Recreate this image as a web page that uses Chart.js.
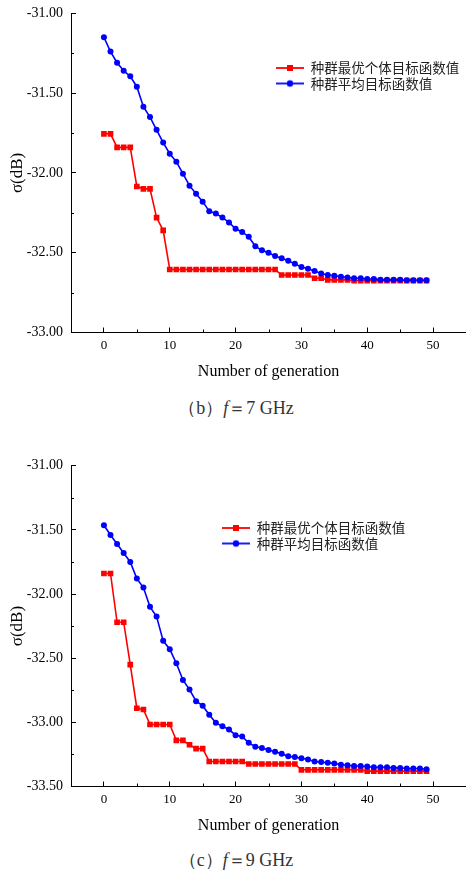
<!DOCTYPE html>
<html>
<head>
<meta charset="utf-8">
<script src="https://cdn.jsdelivr.net/npm/chart.js@4.4.1/dist/chart.umd.min.js"></script>
<style>
  html, body { margin: 0; padding: 0; background: #fff; }
  body { width: 466px; height: 874px; position: relative; overflow: hidden; }
  canvas { position: absolute; left: 0; }
  .cap { position: absolute; width: 466px; left: 0; text-align: center;
         font-family: 'Liberation Serif', 'Times New Roman', serif; font-size: 18px; color: #333;
         line-height: 20px; }
  .cap .shift { position: relative; left: 3px; }
</style>
</head>
<body>
<canvas id="c7" width="466" height="397" style="top:-12px"></canvas>
<div class="cap" style="top:398px"><span class="shift">（b）<i>f</i>＝7 GHz</span></div>
<canvas id="c9" width="466" height="399" style="top:440px"></canvas>
<div class="cap" style="top:850px"><span class="shift">（c）<i>f</i>＝9 GHz</span></div>
<script>
// ---------- data ----------
const generations = [0,1,2,3,4,5,6,7,8,9,10,11,12,13,14,15,16,17,18,19,20,21,22,23,24,25,26,27,28,29,30,31,32,33,34,35,36,37,38,39,40,41,42,43,44,45,46,47,48,49];
const seriesLabels = ['种群最优个体目标函数值', '种群平均目标函数值'];

// f = 7 GHz
const best7 = [-31.755,-31.755,-31.84,-31.84,-31.84,-32.085,-32.10,-32.10,-32.28,-32.36,
  -32.605,-32.605,-32.605,-32.605,-32.605,-32.605,-32.605,-32.605,-32.605,-32.605,
  -32.605,-32.605,-32.605,-32.605,-32.605,-32.605,-32.605,-32.64,-32.64,-32.64,
  -32.64,-32.64,-32.66,-32.66,-32.67,-32.67,-32.67,-32.67,-32.675,-32.675,
  -32.675,-32.675,-32.675,-32.675,-32.675,-32.675,-32.675,-32.675,-32.675,-32.675];
const mean7 = [-31.15,-31.24,-31.31,-31.36,-31.395,-31.46,-31.585,-31.65,-31.73,-31.81,
  -31.88,-31.93,-32.005,-32.08,-32.13,-32.18,-32.24,-32.255,-32.28,-32.31,
  -32.35,-32.37,-32.40,-32.46,-32.485,-32.50,-32.52,-32.535,-32.55,-32.57,
  -32.59,-32.60,-32.615,-32.63,-32.64,-32.645,-32.65,-32.655,-32.66,-32.66,
  -32.665,-32.665,-32.67,-32.67,-32.67,-32.67,-32.672,-32.672,-32.673,-32.673];

// f = 9 GHz
const best9 = [-31.84,-31.84,-32.22,-32.22,-32.55,-32.89,-32.90,-33.017,-33.017,-33.017,
  -33.017,-33.14,-33.14,-33.175,-33.205,-33.205,-33.305,-33.305,-33.305,-33.305,
  -33.305,-33.305,-33.325,-33.325,-33.325,-33.325,-33.325,-33.325,-33.325,-33.325,
  -33.37,-33.37,-33.37,-33.37,-33.37,-33.37,-33.37,-33.37,-33.37,-33.37,
  -33.38,-33.38,-33.38,-33.38,-33.38,-33.38,-33.38,-33.38,-33.38,-33.38];
const mean9 = [-31.464,-31.54,-31.61,-31.68,-31.75,-31.88,-31.95,-32.10,-32.175,-32.365,
  -32.43,-32.54,-32.67,-32.745,-32.835,-32.87,-32.94,-33.004,-33.03,-33.056,
  -33.10,-33.11,-33.16,-33.19,-33.20,-33.215,-33.23,-33.245,-33.265,-33.27,
  -33.28,-33.29,-33.305,-33.31,-33.315,-33.32,-33.33,-33.335,-33.34,-33.34,
  -33.345,-33.35,-33.35,-33.35,-33.355,-33.355,-33.36,-33.36,-33.36,-33.365];

// axes ticks
const xTicks = [0, 10, 20, 30, 40, 50];
const xMinorTicks = [5, 15, 25, 35, 45];
const yTicks7 = [-33.0, -32.5, -32.0, -31.5, -31.0];
const yMinorTicks7 = [-32.75, -32.25, -31.75, -31.25];
const yTicks9 = [-33.5, -33.0, -32.5, -32.0, -31.5, -31.0];
const yMinorTicks9 = [-33.25, -32.75, -32.25, -31.75, -31.25];
const xTitle = 'Number of generation';
const yTitle = 'σ(dB)';

// ---------- helpers ----------
const SERIF = "'Liberation Serif', 'Times New Roman', serif";
const RED = '#ff0000', BLUE = '#0000ff';

function legendImage(color, shape) {
  const c = document.createElement('canvas');
  c.width = 28; c.height = 10;
  const g = c.getContext('2d');
  g.strokeStyle = color; g.fillStyle = color; g.lineWidth = 1.8;
  g.beginPath(); g.moveTo(0, 5); g.lineTo(28, 5); g.stroke();
  if (shape === 'rect') { g.fillRect(11, 2, 6, 6); }
  else { g.beginPath(); g.arc(14, 5, 3.2, 0, Math.PI * 2); g.fill(); }
  return c;
}
const legendImgs = [legendImage(RED, 'rect'), legendImage(BLUE, 'circle')];

const legendMover = {
  id: 'legendMover',
  afterLayout(chart, args, opts) {
    const lg = chart.legend; if (!lg) return;
    const lab = chart.options.plugins.legend.labels;
    const pad = lab.padding, fs = lab.font.size;
    lg.left = opts.x - pad; lg.top = opts.y - pad - fs / 2;
    lg.right = lg.left + 260; lg.bottom = lg.top + 80;
  }
};

const minorTicks = {
  id: 'minorTicks',
  afterDraw(chart, args, opts) {
    const ctx = chart.ctx, xs = chart.scales.x, ys = chart.scales.y;
    const area = chart.chartArea;
    ctx.save();
    ctx.strokeStyle = '#000'; ctx.lineWidth = 1;
    ctx.beginPath();
    opts.x.forEach(v => {
      const px = Math.round(xs.getPixelForValue(v)) + 0.5;
      ctx.moveTo(px, area.bottom); ctx.lineTo(px, area.bottom - 3);
    });
    opts.y.forEach(v => {
      const py = Math.round(ys.getPixelForValue(v)) + 0.5;
      ctx.moveTo(area.left, py); ctx.lineTo(area.left + 3, py);
    });
    ctx.stroke();
    ctx.restore();
  }
};

function makeChart(id, best, mean, yTicks, yMinor, yMin, yMax, padTop, legendPos) {
  const toXY = arr => arr.map((v, i) => ({ x: generations[i], y: v }));
  return new Chart(document.getElementById(id), {
    type: 'line',
    data: {
      datasets: [
        { label: seriesLabels[0], data: toXY(best), borderColor: RED, backgroundColor: RED,
          borderWidth: 1.6, pointStyle: 'rect', pointRadius: 4, pointBorderWidth: 0,
          pointBackgroundColor: RED, tension: 0, order: 1 },
        { label: seriesLabels[1], data: toXY(mean), borderColor: BLUE, backgroundColor: BLUE,
          borderWidth: 1.6, pointStyle: 'circle', pointRadius: 3, pointBorderWidth: 0,
          pointBackgroundColor: BLUE, tension: 0, order: 0 }
      ]
    },
    options: {
      responsive: false, animation: false, devicePixelRatio: 1,
      layout: { autoPadding: false, padding: { top: padTop, left: 0, right: 0, bottom: 0 } },
      scales: {
        x: {
          type: 'linear', min: -5, max: 55,
          afterBuildTicks: s => { s.ticks = xTicks.map(v => ({ value: v })); },
          afterFit: s => { s.height = 52.5; },
          ticks: { color: '#000', font: { family: SERIF, size: 13 }, padding: 10.2, maxRotation: 0,
                   callback: v => String(v) },
          grid: { drawOnChartArea: false, drawTicks: true, tickLength: -5, color: '#000', lineWidth: 1 },
          border: { display: true, color: '#000', width: 1 },
          title: { display: true, text: xTitle, color: '#000', font: { family: SERIF, size: 16 },
                   padding: { top: 0, bottom: 3.4 } }
        },
        y: {
          type: 'linear', min: yMin, max: yMax,
          afterBuildTicks: s => { s.ticks = yTicks.map(v => ({ value: v })); },
          afterFit: s => { s.width = 71; },
          ticks: { color: '#000', font: { family: SERIF, size: 14 }, padding: 13,
                   callback: v => Number(v).toFixed(2) },
          grid: { drawOnChartArea: false, drawTicks: true, tickLength: -5, color: '#000', lineWidth: 1 },
          border: { display: true, color: '#000', width: 1 },
          title: { display: true, text: yTitle, color: '#000', font: { family: SERIF, size: 17 },
                   padding: { top: 7.8, bottom: 0 } }
        }
      },
      plugins: {
        legend: {
          display: true, position: 'chartArea', align: 'start',
          labels: {
            usePointStyle: true, pointStyleWidth: 28, padding: 2, color: '#222',
            font: { family: "'Noto Sans CJK SC', sans-serif", size: 13.5 },
            generateLabels: chart => chart.data.datasets.map((ds, i) => ({
              text: ds.label, datasetIndex: i, pointStyle: legendImgs[i],
              fillStyle: ds.borderColor, strokeStyle: ds.borderColor, lineWidth: 1,
              hidden: false, fontColor: '#222'
            }))
          }
        },
        legendMover: legendPos,
        minorTicks: { x: xMinorTicks, y: yMinor },
        tooltip: { enabled: false }
      }
    },
    plugins: [legendMover, minorTicks]
  });
}

makeChart('c7', best7, mean7, yTicks7, yMinorTicks7, -33, -31, 25.3, { x: 276, y: 80 });
makeChart('c9', best9, mean9, yTicks9, yMinorTicks9, -33.5, -31, 25.7, { x: 222, y: 88 });
</script>
</body>
</html>
